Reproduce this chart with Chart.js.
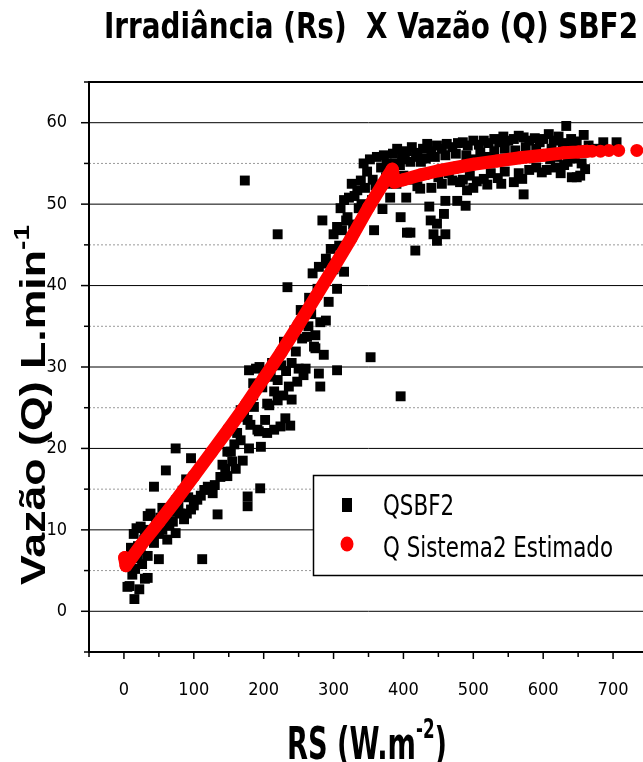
<!DOCTYPE html>
<html>
<head>
<meta charset="utf-8">
<title>Irradiância (Rs) X Vazão (Q) SBF2</title>
<script src="https://cdn.jsdelivr.net/npm/chart.js@4.4.1/dist/chart.umd.min.js"></script>
<style>
  html, body { margin: 0; padding: 0; background: #fff; overflow: hidden; }
  #wrap { width: 700px; height: 762px; }
</style>
</head>
<body>
<div id="wrap"><canvas id="chart" width="700" height="762"></canvas></div>
<script>
// QSBF2 measurements: [RS (W.m-2), Q (L.min-1)]
const qsbf2 = [
  [5, 3.0], [8, 3.1], [15, 1.5], [22, 2.7], [12, 4.5], [16, 5.2], [34, 4.1], [30, 4.0], [20, 6.5], [8, 6.5],
  [24, 7.5], [34, 6.8], [50, 6.4], [43, 8.4], [20, 8.0], [29, 8.8], [14, 9.5], [24, 10.4], [18, 10.2], [34, 11.7],
  [30, 10.0], [40, 9.6], [50, 9.5], [55, 10.0], [62, 8.8], [55, 12.7], [43, 15.3], [60, 17.3], [38, 12.0], [46, 11.0],
  [52, 11.5], [10, 7.8], [26, 5.8],
  [74, 9.6], [70, 11.0], [80, 12.0], [86, 11.3], [90, 12.0], [96, 12.5], [100, 13.0], [105, 13.7], [110, 14.2], [115, 14.9],
  [120, 15.3], [127, 14.5], [134, 11.9], [112, 6.4], [74, 20.0], [89, 16.2], [96, 18.8], [130, 15.5], [138, 16.5], [65, 10.5],
  [78, 13.0], [92, 14.0], [84, 14.8], [68, 12.2],
  [141, 18.0], [148, 16.6], [155, 18.4], [148, 19.6], [177, 12.9], [177, 14.1], [195, 15.1], [167, 21.0], [179, 20.0], [196, 20.2],
  [191, 22.3], [177, 23.5], [186, 25.1], [162, 21.9], [153, 19.6], [160, 17.5], [167, 24.7], [172, 23.9], [181, 22.9], [193, 22.1],
  [179, 29.6], [189, 29.8], [194, 30.0], [185, 28.0], [173, 52.9], [170, 18.5], [158, 20.5], [145, 17.5], [185, 26.5], [198, 27.5],
  [205, 21.9], [205, 25.5], [208, 25.3], [215, 22.3], [220, 25.9], [220, 28.4], [224, 22.7], [231, 23.7], [236, 27.6], [248, 28.2],
  [229, 33.1], [246, 31.9], [260, 29.8], [253, 37.0], [234, 39.8], [220, 46.3], [200, 29.5], [210, 28.8], [212, 30.5], [225, 30.2],
  [232, 29.5], [240, 30.5], [240, 26.0], [255, 33.5], [244, 34.5], [215, 27.0], [228, 26.5], [238, 22.8], [202, 23.5], [257, 29.0],
  [250, 29.8],
  [262, 33.7], [272, 32.5], [274, 33.9], [274, 32.3], [281, 35.5], [279, 29.2], [281, 27.6], [305, 29.6], [277, 39.6], [279, 42.3],
  [289, 43.3], [291, 42.7], [284, 48.0], [300, 46.3], [305, 47.2], [308, 44.9], [312, 46.8], [305, 39.6], [315, 41.7], [289, 35.7],
  [268, 36.5], [265, 38.5], [270, 41.5], [296, 44.5], [293, 38.0], [300, 42.0], [310, 49.5], [315, 50.5], [318, 48.0], [264, 35.0],
  [286, 31.5],
  [320, 48.4], [322, 50.8], [326, 52.5], [330, 51.0], [334, 51.7], [339, 52.9], [343, 55.0], [348, 54.0], [352, 55.5], [356, 53.0],
  [358, 46.8], [353, 31.2], [362, 55.8], [368, 54.5], [370, 49.4], [372, 56.0], [376, 55.0], [380, 52.5], [381, 50.8], [336, 49.5],
  [345, 52.0], [328, 47.5], [340, 50.0], [360, 52.3], [365, 51.8], [375, 53.3], [355, 50.5],
  [385, 56.2], [391, 56.8], [398, 56.0], [405, 56.5], [412, 57.0], [420, 56.3], [428, 56.8], [434, 57.4], [440, 56.5], [448, 57.2],
  [455, 56.8], [462, 57.4], [470, 57.0], [478, 57.5], [388, 55.0], [395, 54.8], [402, 55.5], [410, 55.2], [418, 55.8], [425, 55.2],
  [432, 55.6], [445, 55.8], [460, 56.0], [475, 56.2], [400, 53.5], [415, 53.0], [430, 53.6], [450, 53.3], [465, 53.8],
  [396, 48.4], [404, 50.8], [405, 46.5], [410, 46.5], [417, 44.3], [424, 51.9], [437, 49.7], [439, 48.0], [443, 46.3], [448, 45.5],
  [448, 47.6], [455, 52.5], [458, 48.8], [460, 46.3], [460, 50.4], [470, 52.9], [477, 50.4], [396, 26.4], [390, 52.5], [420, 52.2],
  [440, 52.0], [385, 53.0],
  [485, 57.6], [492, 57.2], [500, 57.8], [508, 57.3], [515, 57.8], [522, 57.5], [530, 58.0], [537, 57.6], [543, 58.3], [550, 57.8],
  [558, 58.0], [565, 58.4], [572, 58.2], [580, 57.8], [588, 58.1], [595, 57.6], [490, 56.0], [500, 55.5], [510, 56.3], [520, 55.8],
  [530, 56.5], [545, 56.8], [560, 56.6], [575, 57.0], [590, 56.8],
  [481, 52.7], [489, 49.8], [491, 51.7], [495, 53.5], [505, 52.8], [515, 53.1], [525, 53.8], [535, 53.2], [545, 54.0], [558, 52.7],
  [565, 53.8], [570, 53.1], [572, 51.2], [580, 54.2], [590, 54.5], [598, 53.9], [485, 53.0], [500, 52.0], [520, 52.4], [540, 52.5],
  [600, 58.0], [608, 58.6], [615, 57.8], [622, 58.3], [633, 59.6], [628, 57.5], [640, 58.0], [648, 57.7], [658, 58.5], [665, 57.2],
  [686, 57.6], [705, 57.6], [610, 55.5], [620, 55.8], [635, 55.2], [645, 55.6], [655, 55.0], [605, 54.2], [618, 54.5], [630, 54.8],
  [641, 53.3], [648, 53.3], [653, 53.5], [660, 54.3], [625, 53.8], [612, 56.8], [638, 56.9], [652, 56.6], [675, 56.8]
]

// Q Sistema2 Estimado
const estimadoRs = [1, 3, 25, 50, 75, 100, 125, 150, 175, 200, 225, 250, 275, 300, 325, 350, 370, 384,
  387, 400, 425, 450, 475, 500, 534, 567, 600, 629, 650, 663, 670, 682, 694, 708, 734]
const estimadoQ = [6.6, 5.6, 8.2, 10.9, 13.7, 16.6, 19.5, 22.4, 25.4, 28.6, 31.8, 35.2, 38.7, 42.2, 45.8, 49.6, 52.4, 54.3,
  52.7, 53.0, 53.6, 54.1, 54.5, 54.9, 55.3, 55.7, 56.0, 56.3, 56.4, 56.5, 56.5, 56.5, 56.6, 56.6, 56.6]

const xMin = -50
const xMax = 750
const yMin = -5
const yMax = 65

const titleText = 'Irradiância (Rs)  X Vazão (Q) SBF2'
const legendLabels = ['QSBF2', 'Q Sistema2 Estimado']

const NARROW = '"Liberation Sans Narrow", "Arial Narrow", "DejaVu Sans Condensed", "Liberation Sans", sans-serif'
const WIDE = '"Liberation Sans", Arial, sans-serif'

// text with optional superscript parts, squeezed to a given width
function drawRich (ctx, parts, x, y, size, family, weight, width) {
  const supSize = Math.round(size * 0.62)
  ctx.save()
  let total = 0
  parts.forEach(([t, sup]) => {
    ctx.font = `${weight} ${sup ? supSize : size}px ${family}`
    total += ctx.measureText(t).width
  })
  ctx.translate(x, y)
  if (width) ctx.scale(width / total, 1)
  ctx.fillStyle = '#000'
  ctx.textBaseline = 'alphabetic'
  ctx.textAlign = 'left'
  let cx = 0
  parts.forEach(([t, sup]) => {
    ctx.font = `${weight} ${sup ? supSize : size}px ${family}`
    ctx.fillText(t, cx, sup ? -size * 0.47 : 0)
    cx += ctx.measureText(t).width
  })
  ctx.restore()
}

const gridPlugin = {
  id: 'gridPlugin',
  beforeDatasetsDraw (chart) {
    const { ctx, chartArea, scales } = chart
    ctx.save()
    for (let v = yMin + 5; v < yMax; v += 5) {
      const py = scales.y.getPixelForValue(v)
      ctx.beginPath()
      if (v % 10 === 0) {
        ctx.setLineDash([])
        ctx.strokeStyle = '#000'
      } else {
        ctx.setLineDash([2, 2])
        ctx.strokeStyle = '#9a9a9a'
      }
      ctx.lineWidth = 1
      ctx.moveTo(chartArea.left, py)
      ctx.lineTo(chartArea.right, py)
      ctx.stroke()
    }
    ctx.restore()
  }
}

const framePlugin = {
  id: 'framePlugin',
  afterDatasetsDraw (chart) {
    const { ctx, chartArea, scales } = chart
    const { left, right, top, bottom } = chartArea
    ctx.save()
    ctx.strokeStyle = '#000'
    ctx.lineWidth = 2
    ctx.strokeRect(left, top, right - left, bottom - top)

    ctx.lineWidth = 1.5
    for (let v = yMin; v <= yMax; v += 5) {
      const py = scales.y.getPixelForValue(v)
      const len = v % 10 === 0 ? 8 : 5
      ctx.beginPath()
      ctx.moveTo(left - len, py)
      ctx.lineTo(left, py)
      ctx.stroke()
    }
    for (let v = xMin; v <= xMax; v += 50) {
      const px = scales.x.getPixelForValue(v)
      const len = v % 100 === 0 ? 7 : 5
      ctx.beginPath()
      ctx.moveTo(px, bottom)
      ctx.lineTo(px, bottom + len)
      ctx.stroke()
    }
    ctx.restore()
  }
}

const textPlugin = {
  id: 'textPlugin',
  afterDraw (chart) {
    const ctx = chart.ctx

    drawRich(ctx, [[titleText]], 104, 38, 35, NARROW, 'bold', 534)
    drawRich(ctx, [['RS (W.m'], ['-2', true], [')']], 287, 759, 44, NARROW, 'bold', 160)

    ctx.save()
    ctx.translate(45, 585)
    ctx.rotate(-Math.PI / 2)
    drawRich(ctx, [['Vazão (Q) L.min'], ['-1', true]], 0, 0, 35, WIDE, 'bold', 360)
    ctx.restore()

    // legend box and markers
    ctx.save()
    ctx.fillStyle = '#fff'
    ctx.fillRect(313, 475, 400, 100)
    ctx.strokeStyle = '#000'
    ctx.lineWidth = 1.5
    ctx.strokeRect(313.5, 475.5, 400, 100)
    ctx.fillStyle = '#000'
    ctx.fillRect(342, 498, 10, 14)
    ctx.fillStyle = '#ff0000'
    ctx.beginPath()
    ctx.ellipse(347, 544, 6.5, 7.5, 0, 0, Math.PI * 2)
    ctx.fill()

    ctx.font = `29px ${NARROW}`
    const sx = 230 / ctx.measureText(legendLabels[1]).width
    const w0 = ctx.measureText(legendLabels[0]).width
    ctx.restore()

    drawRich(ctx, [[legendLabels[0]]], 383, 515, 29, NARROW, 'normal', w0 * sx)
    drawRich(ctx, [[legendLabels[1]]], 383, 557, 29, NARROW, 'normal', 230)
  }
}

const ctx = document.getElementById('chart').getContext('2d')

const chart = new Chart(ctx, {
  type: 'scatter',
  data: {
    datasets: [
      {
        label: legendLabels[1],
        data: estimadoRs.map((x, i) => ({ x, y: estimadoQ[i] })),
        showLine: true,
        borderColor: '#ff0000',
        backgroundColor: '#ff0000',
        borderWidth: 13,
        borderCapStyle: 'round',
        borderJoinStyle: 'round',
        pointRadius: 6.5,
        pointBorderWidth: 0,
        segment: {
          borderColor: c => (c.p0.parsed.x >= 663 ? 'rgba(0,0,0,0)' : '#ff0000')
        },
        order: 0
      },
      {
        label: legendLabels[0],
        data: qsbf2.map(([x, y]) => ({ x, y })),
        pointStyle: 'rect',
        pointRadius: 7,
        pointBorderWidth: 0,
        backgroundColor: '#000',
        borderColor: '#000',
        order: 1
      }
    ]
  },
  options: {
    responsive: false,
    animation: false,
    devicePixelRatio: 1,
    layout: { padding: { top: 82, right: 52, left: 0, bottom: 0 } },
    plugins: {
      legend: { display: false },
      tooltip: { enabled: false },
      title: { display: false }
    },
    scales: {
      x: {
        type: 'linear',
        min: xMin,
        max: xMax,
        grid: { display: false },
        border: { display: false },
        afterFit: s => { s.height = 110 },
        ticks: {
          stepSize: 50,
          autoSkip: false,
          maxRotation: 0,
          padding: 20,
          color: '#000',
          font: { family: NARROW, size: 18 },
          callback: v => (v % 100 === 0 ? v : '')
        }
      },
      y: {
        min: yMin,
        max: yMax,
        grid: { display: false },
        border: { display: false },
        afterFit: s => { s.width = 89 },
        ticks: {
          stepSize: 5,
          autoSkip: false,
          padding: 14,
          color: '#000',
          font: { family: NARROW, size: 18 },
          callback: v => (v % 10 === 0 ? v : '')
        }
      }
    }
  },
  plugins: [gridPlugin, framePlugin, textPlugin]
})
</script>
</body>
</html>
